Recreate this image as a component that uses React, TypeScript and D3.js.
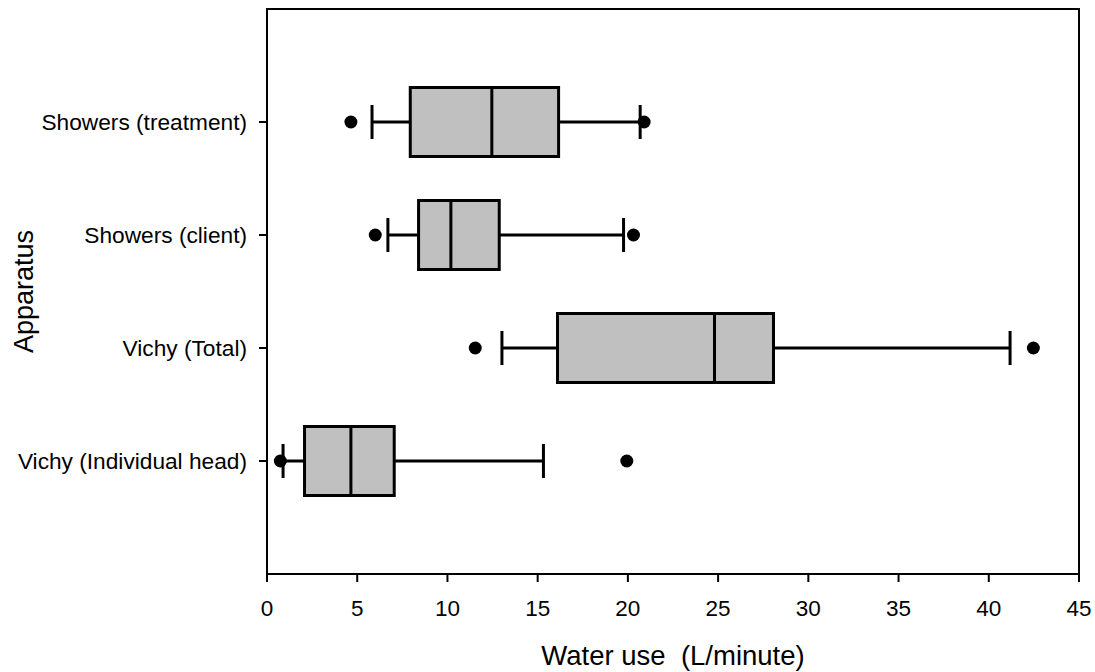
import React from 'react'
import * as d3 from 'd3'

const categories = ['Vichy (Individual head)', 'Vichy (Total)', 'Showers (client)', 'Showers (treatment)']
const whiskerLow = [0.89, 13.02, 6.70, 5.82]
const q1 = [2.08, 16.10, 8.40, 7.94]
const median = [4.65, 24.80, 10.19, 12.46]
const q3 = [7.05, 28.07, 12.87, 16.16]
const whiskerHigh = [15.32, 41.18, 19.76, 20.68]
const outliers = [[0.74, 19.94], [11.54, 42.47], [6.0, 20.31], [4.65, 20.9]]
const xTicks = [0, 5, 10, 15, 20, 25, 30, 35, 40, 45]

const width = 1095
const height = 672
const margin = { top: 9, right: 16, bottom: 98, left: 267 }
const font = '"Liberation Sans", Arial, sans-serif'

export default function App() {
    const x = d3.scaleLinear().domain([0, 45]).range([margin.left, width - margin.right])
    const y = d3.scaleLinear().domain([0, categories.length + 1]).range([height - margin.bottom, margin.top])
    const boxH = 34.5
    const capH = 17

    return (
        <svg width={width} height={height} style={{ position: 'absolute', left: 0, top: 0, background: 'white' }}>
            {categories.map((c, i) => {
                const cy = y(i + 1)
                return (
                    <g key={c}>
                        <line x1={x(whiskerLow[i])} x2={x(q1[i])} y1={cy} y2={cy} stroke="black" strokeWidth={3} />
                        <line x1={x(q3[i])} x2={x(whiskerHigh[i])} y1={cy} y2={cy} stroke="black" strokeWidth={3} />
                        <line x1={x(whiskerLow[i])} x2={x(whiskerLow[i])} y1={cy - capH} y2={cy + capH} stroke="black" strokeWidth={3} />
                        <line x1={x(whiskerHigh[i])} x2={x(whiskerHigh[i])} y1={cy - capH} y2={cy + capH} stroke="black" strokeWidth={3} />
                        <rect x={x(q1[i])} y={cy - boxH} width={x(q3[i]) - x(q1[i])} height={boxH * 2} fill="#c0c0c0" stroke="black" strokeWidth={3} />
                        <line x1={x(median[i])} x2={x(median[i])} y1={cy - boxH} y2={cy + boxH} stroke="black" strokeWidth={3} />
                        {outliers[i].map((v, j) => (
                            <circle key={j} cx={x(v)} cy={cy} r={6.5} fill="black" />
                        ))}
                        <line x1={margin.left - 8} x2={margin.left} y1={cy} y2={cy} stroke="black" strokeWidth={2} />
                        <text x={margin.left - 20} y={cy} dy="0.35em" textAnchor="end" fontFamily={font} fontSize={22.7}>{c}</text>
                    </g>
                )
            })}
            <rect x={margin.left} y={margin.top} width={width - margin.left - margin.right} height={height - margin.top - margin.bottom} fill="none" stroke="black" strokeWidth={2} />
            {xTicks.map(t => (
                <g key={t}>
                    <line x1={x(t)} x2={x(t)} y1={height - margin.bottom} y2={height - margin.bottom + 8} stroke="black" strokeWidth={2} />
                    <text x={x(t)} y={616} textAnchor="middle" fontFamily={font} fontSize={22.5}>{t}</text>
                </g>
            ))}
            <text x={(margin.left + width - margin.right) / 2} y={665} textAnchor="middle" fontFamily={font} fontSize={27.5} style={{ whiteSpace: 'pre' }}>{'Water use  (L/minute)'}</text>
            <text transform={`translate(33, ${(margin.top + height - margin.bottom) / 2}) rotate(-90)`} textAnchor="middle" fontFamily={font} fontSize={27}>Apparatus</text>
        </svg>
    )
}
